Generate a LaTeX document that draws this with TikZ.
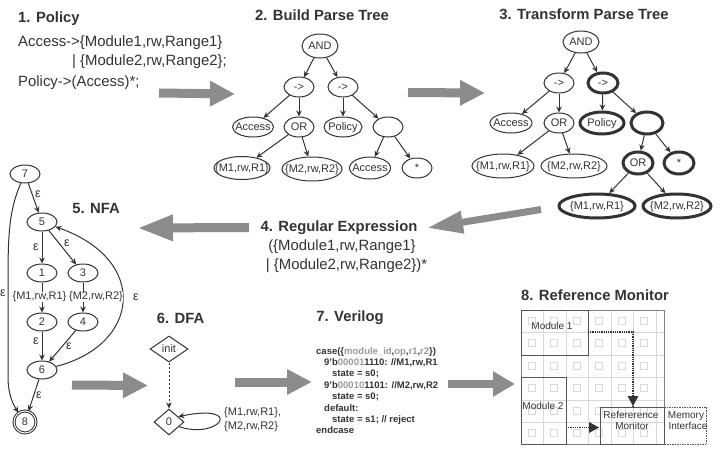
\documentclass[tikz,border=0pt]{standalone}
\usepackage{fontspec}
\setmainfont{Liberation Sans}
\usetikzlibrary{shapes.geometric,arrows.meta}
\definecolor{ink}{HTML}{333333}
\definecolor{blockgray}{HTML}{8C8C8C}
\definecolor{gridgray}{HTML}{D8D8D8}
\definecolor{boxgray}{HTML}{555555}
\definecolor{codegray}{HTML}{999999}
\newcommand{\fs}[1]{\fontsize{#1}{#1}\selectfont}
\newcommand{\gc}[1]{\textcolor{codegray}{#1}}
\newcommand{\cl}[1]{\makebox[0pt]{\raisebox{-0.36em}[0pt][0pt]{#1}}}
\tikzset{
  lbl/.style={inner sep=0pt,text=ink,text height=0.72em,text depth=0.2em,font=\fs{11}},
  eps/.style={lbl,font=\fs{12.5}},
  mon/.style={lbl,font=\fs{10}},
  ttl/.style={lbl,font=\fs{14.8}\bfseries},
  body/.style={lbl,font=\fs{14.9}},
  el/.style={ellipse,draw=ink,line width=1pt,inner sep=0pt,text=ink,font=\fs{11}},
  elb/.style={el,line width=3pt},
  dia/.style={diamond,draw=ink,line width=1pt,inner sep=0pt,text=ink,font=\fs{11}},
  conn/.style={draw=ink,line width=1pt,-{Stealth[length=6pt,width=5.5pt]}},
  big/.style={draw=blockgray,line width=9pt,-{Triangle[length=25pt,width=24pt,fill=blockgray]}},
  cell/.style={draw=gridgray,line width=0.8pt,minimum size=7pt,inner sep=0pt},
  region/.style={draw=boxgray,line width=1pt,inner sep=0pt},
  dotarrow/.style={draw=ink,line width=1.2pt,dash pattern=on 1pt off 0.8pt},
}
\begin{document}
\begin{tikzpicture}[x=1pt,y=-1pt]
\useasboundingbox (0,0) rectangle (720,450);
% titles
\node[ttl,anchor=west] (t1) at (18,20) {1. Policy};
\node[ttl] (t2) at (322,18) {2. Build Parse Tree};
\node[ttl] (t3) at (584,17) {3. Transform Parse Tree};
\node[ttl] (t4) at (339,229) {4. Regular Expression};
\node[ttl] (t5) at (96,211) {5. NFA};
\node[ttl] (t6) at (180.5,321) {6. DFA};
\node[ttl] (t7) at (350,319) {7. Verilog};
\node[ttl] (t8) at (595,298) {8. Reference Monitor};
% policy
\node[body,anchor=west] (p1) at (18,44) {Access->\{Module1,rw,Range1\}};
\node[body,anchor=west] (p2) at (72,63) {| \{Module2,rw,Range2\};};
\node[body,anchor=west] (p3) at (18,84) {Policy->(Access)*;};
% regex
\node[body] (r1) at (342,248) {(\{Module1,rw,Range1\}};
\node[body] (r2) at (346.5,267) {| \{Module2,rw,Range2\})*};
% block arrows
\coordinate (a1s) at (159,93); \coordinate (a1e) at (235,94);
\coordinate (a2s) at (408,92.5); \coordinate (a2e) at (485,93);
\coordinate (a3s) at (541,209.5); \coordinate (a3e) at (427,228);
\coordinate (a4s) at (249,227.5); \coordinate (a4e) at (137,228);
\coordinate (a5s) at (72,385); \coordinate (a5e) at (148,385.5);
\coordinate (a6s) at (235,382); \coordinate (a6e) at (312,382);
\coordinate (a7s) at (448,384); \coordinate (a7e) at (515,384);
\draw[big] (a1s) -- (a1e);
\draw[big] (a2s) -- (a2e);
\draw[big,line width=7pt,-{Triangle[length=36pt,width=21pt,fill=blockgray]}] (a3s) -- (a3e);
\draw[big,-{Triangle[length=36pt,width=24pt,fill=blockgray]}] (a4s) -- (a4e);
\draw[big] (a5s) -- (a5e);
\draw[big] (a6s) -- (a6e);
\draw[big,line width=8pt,-{Triangle[length=22pt,width=24pt,fill=blockgray]}] (a7s) -- (a7e);
% tree 2
\node[el,minimum width=36pt,minimum height=24pt] (b0) at (320,46) {\cl{AND}};
\node[el,minimum width=30pt,minimum height=20pt] (b1) at (299,87) {\cl{->}};
\node[el,minimum width=30pt,minimum height=20pt] (b2) at (343,87) {\cl{->}};
\node[el,minimum width=41pt,minimum height=20pt] (b3) at (253,127) {\cl{Access}};
\node[el,minimum width=30pt,minimum height=20pt] (b4) at (299,127) {\cl{OR}};
\node[el,minimum width=38pt,minimum height=20pt] (b5) at (343,127) {\cl{Policy}};
\node[el,minimum width=30pt,minimum height=20pt] (b6) at (388,127) {};
\node[el,minimum width=56pt,minimum height=23pt] (b7) at (242,168) {\cl{\{M1,rw,R1\}}};
\node[el,minimum width=60pt,minimum height=24pt] (b8) at (312,169) {\cl{\{M2,rw,R2\}}};
\node[el,minimum width=41pt,minimum height=22pt] (b9) at (370,168) {\cl{Access}};
\node[el,minimum width=30pt,minimum height=20pt] (b10) at (417,168) {\cl{*}};
\foreach \u/\v in {b0/b1,b0/b2,b1/b3,b1/b4,b2/b5,b2/b6,b4/b7,b4/b8,b6/b9,b6/b10}
  \draw[conn] (\u) -- (\v);
% tree 3
\node[el,minimum width=36pt,minimum height=22pt] (c0) at (581,42) {\cl{AND}};
\node[el,minimum width=30pt,minimum height=20pt] (c1) at (559,83) {\cl{->}};
\node[elb,minimum width=30pt,minimum height=20pt] (c2) at (603,83) {\cl{->}};
\node[el,minimum width=42pt,minimum height=20pt] (c3) at (511,123) {\cl{Access}};
\node[el,minimum width=30pt,minimum height=20pt] (c4) at (559,123) {\cl{OR}};
\node[elb,minimum width=44pt,minimum height=22pt] (c5) at (602,123) {\cl{Policy}};
\node[elb,minimum width=32pt,minimum height=22pt] (c6) at (647,123) {};
\node[el,minimum width=62pt,minimum height=24pt] (c7) at (503,166) {\cl{\{M1,rw,R1\}}};
\node[el,minimum width=66pt,minimum height=24pt] (c8) at (574,166) {\cl{\{M2,rw,R2\}}};
\node[elb,minimum width=30pt,minimum height=22pt] (c9) at (638,163) {\cl{OR}};
\node[elb,minimum width=30pt,minimum height=22pt] (c10) at (679,163) {\cl{*}};
\node[elb,minimum width=76pt,minimum height=24pt] (c11) at (597,206) {\cl{\{M1,rw,R1\}}};
\node[elb,minimum width=68pt,minimum height=24pt] (c12) at (677,206) {\cl{\{M2,rw,R2\}}};
\foreach \u/\v in {c0/c1,c0/c2,c1/c3,c1/c4,c2/c5,c2/c6,c4/c7,c4/c8,c6/c9,c6/c10,c9/c11,c9/c12}
  \draw[conn] (\u) -- (\v);
% NFA
\foreach \n/\x/\y in {7/25/174,5/42/222,1/42/273,3/83/273,2/42/322,4/83/322,6/42/370}
  \node[el,minimum width=30pt,minimum height=18pt] (n\n) at (\x,\y) {\cl{\n}};
\node[el,circle,double,double distance=1pt,minimum size=22pt] (n8) at (25,422) {\cl{8}};
\draw[conn] (n7) -- (n5);
\draw[conn] (n5) -- (n1);
\draw[conn] (n5) -- (n3);
\draw[conn] (n1) -- (n2);
\draw[conn] (n3) -- (n4);
\draw[conn] (n2) -- (n6);
\draw[conn] (n4) -- (n6);
\draw[conn] (n6) -- (n8);
\draw[conn] (n7) .. controls (8,212) and (8,240) .. (8,290) -- (8,377) .. controls (8,392) and (12,403) .. (n8);
\draw[conn] (n6) .. controls (140,345) and (150,260) .. (n5);
\node[eps] (e1) at (38,195) {ε};
\node[eps] (e2) at (3,294) {ε};
\node[eps] (e3) at (36,248) {ε};
\node[eps] (e4) at (67,244) {ε};
\node[lbl,fill=white,inner xsep=0.5pt] (e5) at (39.5,297) {\{M1,rw,R1\}};
\node[lbl,fill=white,inner xsep=0.5pt] (e6) at (96,297) {\{M2,rw,R2\}};
\node[eps] (e7) at (136,298) {ε};
\node[eps] (e8) at (36,342) {ε};
\node[eps] (e9) at (69,347) {ε};
\node[eps] (e10) at (39,396) {ε};
% DFA
\node[dia,minimum width=38pt,minimum height=26pt] (d0) at (169,349) {\cl{init}};
\node[dia,minimum width=30pt,minimum height=26pt] (d1) at (169,422) {\cl{0}};
\draw[conn,dash pattern=on 2.5pt off 1.5pt] (d0) -- (d1);
\draw[conn] (d1.-25) .. controls (220,440) and (245,403) .. (d1.30);
\node[lbl,anchor=west] (dl1) at (224,413) {\{M1,rw,R1\},};
\node[lbl,anchor=west] (dl2) at (224,427) {\{M2,rw,R2\}};
% Verilog
\node[anchor=north west,inner sep=0pt,align=left,text=ink,font=\fontsize{9.5}{11.4}\selectfont\bfseries] (code) at (316,347) {%
case(\{\gc{module\_id},\gc{op},\gc{r1},\gc{r2}\})\\
\hspace*{8pt}9'b\gc{00001}1110: //M1,rw,R1\\
\hspace*{16pt}state = s0;\\
\hspace*{8pt}9'b\gc{00010}1101: //M2,rw,R2\\
\hspace*{16pt}state = s0;\\
\hspace*{8pt}default:\\
\hspace*{16pt}state = s1; // reject\\
endcase};
% Reference monitor grid
\foreach \x in {543,566,588,611,633,656} \draw[gridgray,line width=0.8pt] (\x,310) -- (\x,444);
\foreach \y in {332,355,377,400,422} \draw[gridgray,line width=0.8pt] (521,\y) -- (664,\y);
\foreach \x in {532,554,577,599,622,644}
  \foreach \y in {321,343,366,388,411,433}
    \node[cell,fill=white] at (\x,\y) {};
\node[region,draw=gray,line width=1.2pt,minimum width=143pt,minimum height=134pt,anchor=north west] (outer) at (521,310) {};
\node[region,minimum width=67pt,minimum height=45pt,anchor=north west] (m1) at (521,310) {};
\node[region,minimum width=45pt,minimum height=67pt,anchor=north west] (m2) at (521,377) {};
\node[region,minimum width=64pt,minimum height=37pt,anchor=north west] (rm) at (600,407) {};
\node[region,dash pattern=on 1.5pt off 1pt,minimum width=42pt,minimum height=37pt,anchor=north west] (mem) at (664,407) {};
\node[mon] (ml1) at (552,327) {Module 1};
\node[mon] (ml2) at (543,407) {Module 2};
\node[mon] (rl1) at (631,416) {Refererence};
\node[mon] (rl2) at (632,427) {Monitor};
\node[mon] (ml3) at (686,416) {Memory};
\node[mon] (ml4) at (688,427) {Interface};
\coordinate (q1) at (588,332); \coordinate (q2) at (633,332);
\coordinate (q3) at (566,427.5);
\draw[dotarrow] (q1) -- (q2) -- (rm.north -| q2) ;
\draw[dotarrow] (q3) -- (rm.west |- q3);
\fill[ink] (rm.north -| q2) ++(0,-1) -- ++(-5.5,-10) -- ++(11,0) -- cycle;
\fill[ink] (rm.west |- q3) ++(-1,0) -- ++(-10,-5.5) -- ++(0,11) -- cycle;
\end{tikzpicture}
\end{document}
